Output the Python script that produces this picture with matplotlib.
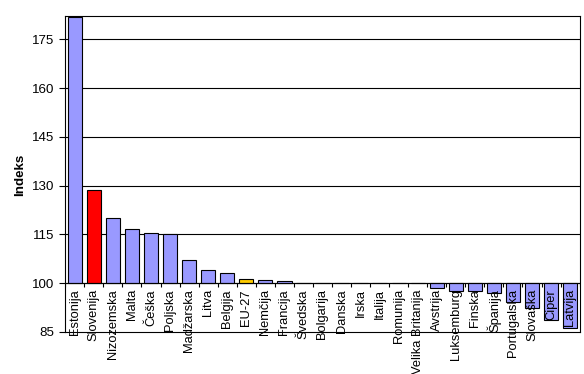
import matplotlib
matplotlib.use("Agg")
import matplotlib.pyplot as plt
import numpy as np

plt.rcParams['font.family'] = ['Liberation Sans', 'DejaVu Sans']

countries = ["Estonija", "Slovenija", "Nizozemska", "Malta", "Češka", "Poljska",
             "Madžarska", "Litva", "Belgija", "EU-27", "Nemčija", "Francija",
             "Švedska", "Bolgarija", "Danska", "Irska", "Italija", "Romunija",
             "Velika Britanija", "Avstrija", "Luksemburg", "Finska", "Španija",
             "Portugalska", "Slovaška", "Ciper", "Latvija"]
values = [181.8, 128.8, 120.2, 116.8, 115.3, 115.0,
          107.1, 104.2, 103.0, 101.4, 100.9, 100.6,
          100.2, 100.0, 100.0, 100.0, 100.0, 100.0,
          100.0, 98.4, 97.6, 97.6, 97.0,
          94.3, 92.5, 88.8, 86.1]
yticks = [85, 100, 115, 130, 145, 160, 175]
baseline = 100

colors = []
for c in countries:
    if c == "Slovenija":
        colors.append("#FF0000")
    elif c == "EU-27":
        colors.append("#FFCC00")
    else:
        colors.append("#9999FF")

fig = plt.figure(figsize=(5.84, 3.74), dpi=100)
ax = fig.add_axes([0.1118, 0.1123, 0.8807, 0.8449])

x = np.arange(len(countries))
heights = [v - baseline for v in values]
ax.bar(x, heights, bottom=baseline, width=0.75, color=colors,
       edgecolor="black", linewidth=0.8, zorder=3)

ax.set_xlim(-0.5, len(countries) - 0.5)
ax.set_ylim(85, 182.2)
ax.set_yticks(yticks)
ax.set_yticklabels([str(t) for t in yticks], fontsize=9.6)
ax.tick_params(axis='y', length=4, width=0.8, pad=4, direction='out')
ax.set_xticks([])

for t in yticks[1:]:
    ax.axhline(t, color="black", linewidth=0.8, zorder=1)
ax.axhline(baseline, color="black", linewidth=0.8, zorder=4)

# category tick marks on the baseline
ax.vlines(np.arange(len(countries) + 1) - 0.5, baseline - 1.2, baseline,
          color="black", linewidth=0.8, zorder=4)

for i, c in enumerate(countries):
    ax.text(i, baseline - 1.8, c, rotation=90, ha="center", va="top",
            fontsize=9.3, zorder=5)

for s in ax.spines.values():
    s.set_linewidth(0.8)
    s.set_color("black")

fig.text(20 / 584, 1 - 175 / 374, "Indeks", rotation=90, ha="center",
         va="center", fontsize=9.6, fontweight="bold")

fig.savefig("out.png", dpi=100)
